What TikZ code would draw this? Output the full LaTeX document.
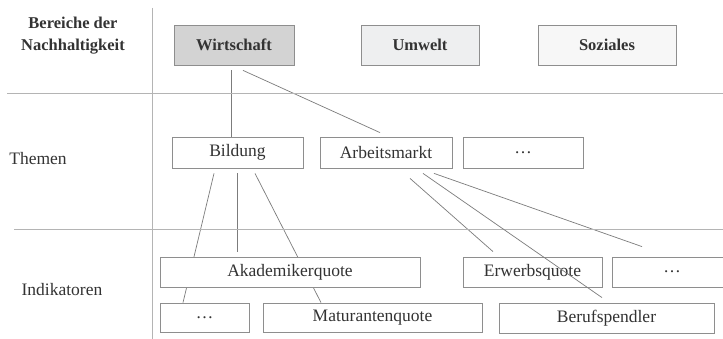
\documentclass[tikz,border=0pt]{standalone}
\usepackage{fontspec}
\setmainfont{Liberation Serif}
\usepackage{tikz}
\usetikzlibrary{calc}
\definecolor{schrift}{HTML}{333333}
\definecolor{rahmen}{HTML}{8E8E8E}
\definecolor{linie}{HTML}{7C7C7C}
\definecolor{trenn}{HTML}{B4B4B4}
\definecolor{grauA}{HTML}{D3D3D3}
\definecolor{grauB}{HTML}{EEEFF0}
\definecolor{grauC}{HTML}{F7F7F7}
\pgfdeclarelayer{hinten}
\pgfsetlayers{hinten,main}

\begin{document}
\begin{tikzpicture}[x=1pt, y=1pt,
	kasten/.style={draw=rahmen, fill=white, line width=0.8pt, inner sep=0pt,
		minimum height=30pt, text=schrift, font=\fontsize{17.5}{20}\selectfont},
	bereich/.style={kasten, minimum height=40pt, font=\bfseries\fontsize{16.5}{20}\selectfont},
	ebene/.style={text=schrift, font=\fontsize{17.5}{20}\selectfont},
	verb/.style={draw=linie, line width=0.7pt}]
	\useasboundingbox (0,0) rectangle (723,339);
	% Raster
	\draw[trenn, line width=0.8pt] (152,331) -- (152,0);
	\draw[trenn, line width=0.8pt] (7,246) -- (723,246);
	\draw[trenn, line width=0.8pt] (14,110) -- (723,110);
	% Ebenen
	\node[ebene, align=center, font=\bfseries\fontsize{16.5}{22}\selectfont] (LB) at (73,303) {Bereiche der\\Nachhaltigkeit};
	\node[ebene] (LT) at (38,180) {Themen};
	\node[ebene] (LI) at (62,49) {Indikatoren};
	% Bereiche
	\node[bereich, fill=grauA, minimum width=120pt] (W) at (234,294) {Wirtschaft};
	\node[bereich, fill=grauB, minimum width=118pt] (U) at (420,294) {Umwelt};
	\node[bereich, fill=grauC, minimum width=138pt] (S) at (607,294) {Soziales};
	% Themen
	\node[kasten, minimum width=131pt, minimum height=31pt] (Bi) at (237.5,186.5) {Bildung};
	\node[kasten, minimum width=132pt, minimum height=31pt] (Ar) at (386,186.5) {Arbeitsmarkt};
	\node[kasten, minimum width=120pt, minimum height=31pt] (T3) at (523,186.5) {\dots};
	% Indikatoren
	\node[kasten, minimum width=260pt] (Ak) at (290,67) {Akademikerquote};
	\node[kasten, minimum width=139pt] (Er) at (532.5,67) {Erwerbsquote};
	\node[kasten, minimum width=120pt] (I3) at (672,67) {\dots};
	\node[kasten, minimum width=89pt, minimum height=29pt] (I4) at (204.5,21.5) {\dots};
	\node[kasten, minimum width=219pt, minimum height=29pt] (Ma) at (372.5,21.5) {Maturantenquote};
	\node[kasten, minimum width=215pt] (Be) at (606.5,21) {Berufspendler};
%
	\begin{pgfonlayer}{hinten}
		\fill[white] (0,0) rectangle (723,339);
		\draw[verb] ([xshift=-3pt,yshift=-5pt]W.south) -- ([xshift=-6.5pt]Bi.north);
		\draw[verb] ([xshift=9pt,yshift=-5pt]W.south) -- ([xshift=-6pt,yshift=4pt]Ar.north);
		\draw[verb] ([xshift=-23.5pt,yshift=-5pt]Bi.south) -- ([xshift=-21.5pt]I4.north);
		\draw[verb] ([yshift=-5pt]Bi.south) -- ($(Bi.south |- Ak.north)+(0,5)$);
		\draw[verb] ([xshift=17.5pt,yshift=-5pt]Bi.south) -- ([xshift=-51.5pt]Ma.north);
		\draw[verb] ([xshift=24pt,yshift=-10pt]Ar.south) -- ([xshift=-39.5pt,yshift=5pt]Er.north);
		\draw[verb] ([xshift=48pt,yshift=-5pt]Ar.south) -- ([xshift=-30pt,yshift=10pt]I3.north);
	\end{pgfonlayer}
	\draw[verb] ([xshift=37pt,yshift=-5pt]Ar.south) -- ([xshift=-4.5pt,yshift=5pt]Be.north);
\end{tikzpicture}
\end{document}
